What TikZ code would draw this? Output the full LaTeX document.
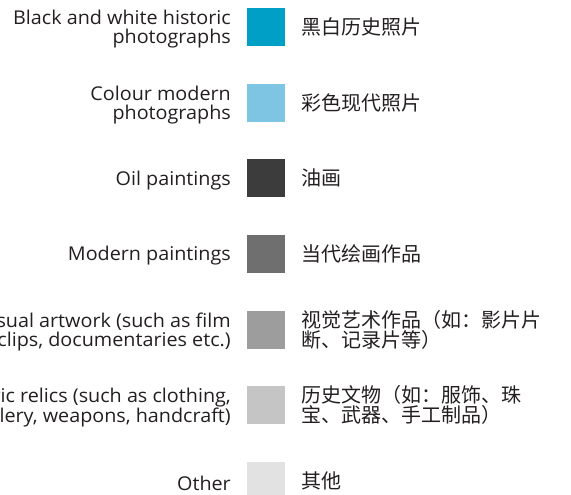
\documentclass[tikz,border=0pt]{standalone}
\usepackage{fontspec}
\setmainfont[FakeStretch=1.04]{Open Sans}
\newfontfamily\cjk{Noto Sans CJK SC}
\definecolor{c1}{HTML}{00A0C6}
\definecolor{c2}{HTML}{7EC5E3}
\definecolor{c3}{HTML}{3C3C3C}
\definecolor{c4}{HTML}{6F6F6F}
\definecolor{c5}{HTML}{9D9D9D}
\definecolor{c6}{HTML}{C5C5C5}
\definecolor{c7}{HTML}{E2E2E2}
\definecolor{txt}{HTML}{231F20}
\begin{document}
\begin{tikzpicture}[x=1pt,y=-1pt,
  swatch/.style={minimum width=38pt,minimum height=38pt,inner sep=0pt,draw=none,fill=#1},
  entext/.style={anchor=east,align=right,inner sep=0pt,text=txt,font=\fontsize{19}{19}\selectfont},
  zhtext/.style={anchor=west,align=left,inner sep=0pt,text=txt,font=\cjk\fontsize{20}{20}\selectfont}]
\useasboundingbox (0,0) rectangle (571,495);
\def\pitch{75.67}
\foreach \i/\c in {0/c1,1/c2,2/c3,3/c4,4/c5,5/c6,6/c7}{
  \node[swatch=\c] (s\i) at (266,{27+\pitch*\i}) {};
}
\node[entext] (e0) at (231,{29}) {Black and white historic\\photographs};
\node[entext] (e1) at (231,{29+\pitch}) {Colour modern\\photographs};
\node[entext] (e2) at (231,{29+2*\pitch}) {Oil paintings};
\node[entext] (e3) at (231,{29+3*\pitch}) {Modern paintings};
\node[entext] (e4) at (231,{29+4*\pitch}) {Visual artwork (such as film\\clips, documentaries etc.)};
\node[entext] (e5) at (231,{29+5*\pitch}) {Historic relics (such as clothing,\\jewellery, weapons, handcraft)};
\node[entext] (e6) at (231,{29+6*\pitch}) {Other};
\node[zhtext] (z0) at (301,{27}) {黑白历史照片};
\node[zhtext] (z1) at (301,{27+\pitch}) {彩色现代照片};
\node[zhtext] (z2) at (301,{27+2*\pitch}) {油画};
\node[zhtext] (z3) at (301,{27+3*\pitch}) {当代绘画作品};
\node[zhtext] (z4) at (301,{27+4*\pitch}) {视觉艺术作品（如：影片片\\断、记录片等）};
\node[zhtext] (z5) at (301,{27+5*\pitch}) {历史文物（如：服饰、珠\\宝、武器、手工制品）};
\node[zhtext] (z6) at (301,{27+6*\pitch}) {其他};
\end{tikzpicture}
\end{document}
